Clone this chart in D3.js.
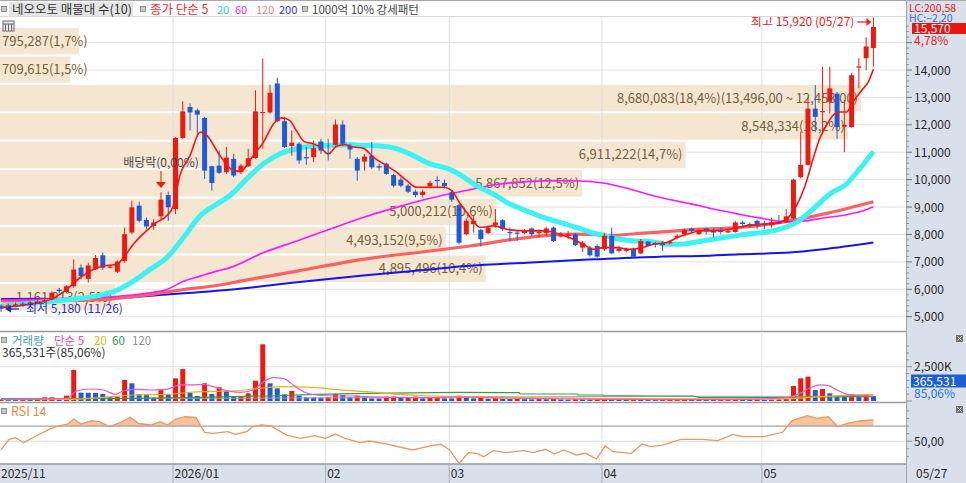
<!DOCTYPE html>
<html>
<head>
<meta charset="utf-8">
<script src="https://d3js.org/d3.v7.min.js"></script>
<style>
  body { margin: 0; background: #fff; }
  svg { display: block; font-family: "Noto Sans CJK KR", "Noto Sans", sans-serif; }
</style>
</head>
<body>
<svg id="chart" width="966" height="483"></svg>
<script>
// ---- data ----
const tradingDays = [
  ["2025-11", [26, 27, 28]],
  ["2025-12", [1, 2, 3, 4, 5, 8, 9, 10, 11, 12, 15, 16, 17, 18, 19, 22, 23, 24, 26, 29, 30]],
  ["2026-01", [2, 5, 6, 7, 8, 9, 12, 13, 14, 15, 16, 19, 20, 21, 22, 23, 26, 27, 28, 29, 30]],
  ["2026-02", [2, 3, 4, 5, 6, 9, 10, 11, 12, 13, 19, 20, 23, 24, 25, 26, 27]],
  ["2026-03", [3, 4, 5, 6, 9, 10, 11, 12, 13, 16, 17, 18, 19, 20, 23, 24, 25, 26, 27, 30, 31]],
  ["2026-04", [1, 2, 3, 6, 7, 8, 9, 10, 13, 14, 15, 16, 17, 20, 21, 22, 23, 24, 27, 28, 29, 30]],
  ["2026-05", [4, 6, 7, 8, 11, 12, 13, 14, 15, 18, 19, 20, 21, 22, 26, 27]]
];
const dates = tradingDays.flatMap(([m, ds]) => ds.map(d => m + "-" + String(d).padStart(2, "0")));

const open = [5400,5300,5380,5480,5420,5500,5540,5625,5990,5900,
  6110,6790,6380,6730,7240,6800,6640,7030,8070,9050,
  8530,8310,8660,9440,8930,11520,12650,12530,12250,10490,
  10510,10270,10760,10270,10490,10790,12440,12450,13510,12130,
  11230,11310,10820,10820,11390,10980,11270,12010,11230,10760,
  10660,10880,10490,10580,10170,10000,9780,9560,9440,9760,
  9990,9880,9540,9070,8010,8380,8170,8050,8340,8520,
  8090,8070,8050,8220,8050,8050,8250,7950,7950,8010,
  7520,7520,7580,7460,7950,7400,7400,7480,7310,7740,
  7680,7680,7680,7890,8010,8220,8010,8220,8130,8170,
  8070,8090,8440,8380,8500,8380,8340,8440,8440,8580,
  10090,10540,12590,12470,12840,13140,11930,11920,14100,14430,
  14800];
const high = [5450,5480,5520,5540,5580,5620,5700,5920,6050,6150,
  7090,6910,6970,7250,7340,6900,7050,8250,9230,9190,
  8620,8560,9540,9560,11550,12860,12780,12590,12290,10510,
  11060,11190,10940,10580,11130,13260,14420,13470,13720,12290,
  11800,11370,11190,11430,11490,11490,12190,12160,11310,10820,
  10940,11370,10580,10610,10210,10090,9840,9630,9630,9960,
  10120,10000,9600,9110,8580,8680,8190,8310,8930,8560,
  8250,8130,8190,8250,8190,8280,8280,8090,8130,8050,
  7760,7580,7640,8070,8250,7580,7520,7520,7830,7760,
  7730,7760,7800,8010,8220,8250,8220,8250,8220,8250,
  8220,8500,8500,8440,8530,8500,8620,8710,8930,10030,
  11750,13020,13450,14120,14120,13200,12900,13880,14430,15190,
  15920];
const low = [5180,5250,5340,5360,5390,5460,5500,5600,5870,5860,
  6050,6360,6240,6700,6700,6760,6600,6970,8010,8440,
  8190,8170,8560,8500,8740,11490,11800,11560,10030,9600,
  10210,10210,10090,10210,10460,10760,11130,12410,12100,11150,
  10880,10580,10540,10640,10940,10700,11250,11220,10760,9960,
  10330,10390,10330,10170,9720,9720,9510,9350,9350,9680,
  9720,9680,9190,7640,7970,8070,7560,8010,8250,8130,
  7760,7760,8010,7950,7890,7950,7730,7890,7830,7580,
  7360,7190,7150,7400,7280,7340,7340,7150,7280,7560,
  7520,7400,7640,7830,7970,8050,7990,8010,7890,8010,
  8050,8070,8250,8250,8190,8190,8250,8380,8410,8530,
  10050,10510,11740,11740,12410,11490,11000,11900,13330,14000,
  14120];
const close = [5300,5420,5450,5400,5520,5560,5600,5875,5930,6110,
  6720,6480,6870,7140,6790,6830,7010,8010,8990,8500,
  8290,8440,9270,8990,11520,12490,12450,12370,10330,9880,
  10250,10800,10150,10510,10780,12490,12470,13170,12130,11190,
  11350,10700,10790,11150,11060,10940,12010,11310,11100,10330,
  10840,10450,10440,10210,9780,9780,9560,9440,9560,9880,
  9950,9760,9270,7700,8500,8500,7830,8250,8440,8190,
  8070,8050,8130,8010,8090,8220,7760,7970,8010,7610,
  7700,7240,7190,7950,7310,7480,7460,7190,7760,7580,
  7640,7620,7730,7950,8170,8130,8130,8130,8070,8090,
  8130,8440,8380,8310,8310,8340,8440,8410,8660,10000,
  10540,12590,12290,12500,13330,11920,12000,13810,14130,14860,
  15570];
const volume = [120000,100000,90000,110000,95000,130000,267000,270000,146000,389000,
  2260000,608000,600000,590000,510000,316000,330000,1530000,1290000,486000,
  480000,243000,875000,486000,1650000,2330000,583000,365000,1290000,510000,
  1000000,730000,316000,365000,560000,1480000,4130000,1290000,923000,486000,
  730000,389000,267000,260000,250000,270000,510000,437000,267000,389000,
  267000,194000,190000,316000,320000,243000,267000,316000,194000,267000,
  270000,194000,190000,389000,280000,190000,220000,170000,200000,160000,
  140000,150000,130000,120000,140000,130000,150000,110000,100000,120000,
  110000,100000,105000,170000,140000,90000,80000,95000,85000,80000,
  70000,75000,90000,100000,110000,95000,90000,85000,80000,90000,
  95000,120000,100000,95000,110000,90000,100000,115000,170000,1094000,
  1650000,1774000,800000,875000,560000,389000,316000,486000,365000,429730,
  365531];

// moving averages: [day index, value]
const ma5 = [[0,5330],[3,5420],[5,5500],[7,5650],[9,5990],[10.9,6430],[12.7,6725],[14.1,6850],[15.9,6910],
  [17,7213],[18.2,7642],[20,8130],[21.4,8438],[22.8,8680],[23.7,9047],[24.6,10147],[26,10880],[27.4,11738],
  [28.3,11613],[30.1,10880],[32,10330],[32.9,10300],[34.7,10880],[36.1,11371],[37.5,12042],[38.6,12252],
  [39.7,12164],[40.6,11797],[41.8,11371],[42.9,11309],[43.9,11188],[45,10942],[46.2,11225],[47.3,11272],
  [48.5,11188],[49.8,11151],[51.2,10821],[53,10513],[54.4,10271],[55.8,9963],[57.2,9721],[58.6,9721],
  [60.9,9721],[62,9597],[63.1,9150],[64.5,8650],[65.9,8254],[67.7,8313],[70,8166],[72.3,8130],[74.6,8130],
  [76.9,8009],[78.7,7825],[80.1,7642],[81.5,7459],[82.8,7521],[84.7,7521],[86.5,7459],[87.9,7500],
  [89.7,7642],[91.6,7704],[93,7888],[94.8,8046],[96.1,8130],[98,8130],[100.3,8192],[102.5,8313],
  [104.8,8376],[107.1,8438],[108.5,8680],[109.4,9047],[110.6,9780],[111.7,10759],[112.6,11492],
  [113.8,12105],[114.7,12409],[115.4,12470],[116.3,12470],[117.2,12838],[118.4,13264],[119.3,13570],[120,14030]];
const ma20 = [[0,5380],[6,5540],[11.3,5680],[13.6,5780],[15.9,5960],[18.2,6296],[20.5,6725],[22.8,7154],
  [25.1,7888],[27.4,8680],[29.7,9109],[31.5,9420],[33.8,10026],[36.1,10576],[38.4,10942],[40.7,11126],
  [42.9,11225],[45.2,11240],[47.5,11272],[49.8,11250],[52.1,11225],[54.4,11126],[56.7,10880],[59,10576],
  [61.3,10418],[63.3,10150],[65.4,9780],[67.7,9476],[70,9109],[72.3,8863],[74.6,8621],[76.9,8438],
  [79.2,8254],[81.5,8046],[82.8,7972],[85.1,7825],[87.4,7763],[89.7,7727],[91.6,7642],[93.4,7642],
  [95.2,7704],[98,7825],[102.5,8009],[104.8,8071],[107.1,8192],[109.4,8438],[111.7,8926],[114,9476],
  [116.3,9842],[118.1,10392],[120,11027]];
const ma60 = [[0,5610],[10,5660],[15,5720],[20.5,5871],[22.8,5992],[25.1,6296],[27.4,6480],[29.7,6663],
  [31.5,6790],[36.1,7338],[40.7,7763],[45.2,8192],[49.8,8621],[54.4,8988],[59,9318],[64.5,9633],
  [67.7,9806],[72.3,9927],[76.9,9963],[79.7,9950],[82.8,9879],[86.1,9685],[88.8,9476],[91.6,9292],
  [94.3,9146],[96.1,9047],[98,8926],[101.5,8740],[104.8,8584],[107.1,8480],[108.5,8470],[110.7,8497],
  [113.1,8600],[116.3,8720],[118.6,8863],[120,9010]];
const ma120 = [[0,5580],[13.6,5625],[20.5,5808],[25.1,5992],[29.7,6139],[32.9,6296],[40.7,6663],
  [49.8,7092],[59,7396],[64.5,7580],[72.3,7888],[79.2,8009],[83.8,7972],[88.4,8046],[93,8130],
  [96.1,8192],[101.6,8254],[108.5,8497],[113.1,8742],[120,9193]];
const ma200 = [[0,5650],[13.6,5660],[22.8,5808],[32.2,6000],[40.7,6260],[49.8,6505],[59,6725],
  [64,6846],[72.3,6971],[81.5,7092],[90.6,7191],[96.1,7213],[101.6,7276],[108.5,7338],[113.1,7459],[120,7704]];

const volMa5 = [[0,110000],[9,195000],[10.4,730000],[12.2,875000],[14.1,800000],[15.7,486000],[16.8,730000],
  [18.2,850000],[20.5,800000],[22.8,850000],[24.6,1170000],[26.4,1170000],[27.8,1215000],[29.2,1045000],
  [31,753000],[32.9,632000],[34.7,800000],[36.1,1410000],[37.5,1700000],[38.8,1650000],[40.2,1170000],
  [41.6,680000],[43.4,437000],[45.7,365000],[48.5,365000],[50.3,316000],[54.9,267000],[59.5,243000],
  [63.1,290000],[70,200000],[80,140000],[90,100000],[100,100000],[108.1,240000],[109.9,560000],
  [111.3,970000],[112.7,1170000],[113.8,1120000],[115,800000],[116.4,486000],[118.2,389000],[120,365000]];
const volMa20 = [[0,100000],[9,120000],[13.6,245000],[18.2,437000],[22.8,486000],[27.4,680000],[31.9,730000],
  [35.6,923000],[38.8,1045000],[43.4,972000],[45.7,850000],[50.3,680000],[54.9,486000],[59.5,365000],
  [63.1,316000],[69.5,316000],[71.4,243000],[82.4,194000],[106.2,145000],[110.8,243000],[115.4,389000],[120,486000]];
const volMa60 = [[0,146000],[18.2,194000],[27.4,267000],[36.6,365000],[43.4,486000],[50.3,560000],
  [63.1,632000],[71.3,608000],[71.4,510000],[79.3,510000],[79.4,437000],[82.8,437000],[82.9,400000],
  [89.2,365000],[95.2,365000],[96.1,243000],[108.1,243000],[112,300000],[120,320000]];
const volMa120 = [[0,180000],[30,200000],[60,260000],[89,340000],[120,340000]];

const rsi14 = [[0,38.5],[1.1,52.5],[2,54.7],[3.1,48.1],[4.5,55.2],[6.6,65.7],[7.9,70.1],[9.2,72.7],[10,79.3],
  [11,72.7],[12.4,77.1],[13.5,76],[14.9,69.2],[16.4,74.5],[17.8,81.5],[18.9,73.6],[20.6,71.4],[21.9,75.8],
  [22.9,71.4],[24,78.9],[25.3,82.3],[26.8,81.5],[28,61.8],[29.1,60.4],[31.2,62.6],[32.2,59.1],[33.8,62.6],
  [34.6,69.2],[35.9,71.4],[37.1,70.1],[39.3,58.2],[41.2,53.8],[43.1,57.3],[44.6,53.8],[46,59.5],[47.3,53.8],
  [49.4,48.1],[50.7,50.3],[53.3,46],[56.6,38.5],[59.2,44.1],[60.5,46],[61.7,38.5],[63,20.9],[64.3,34.9],
  [65.5,34.1],[66.4,29.6],[67.7,37.5],[69.4,34.9],[71.9,37.5],[73.2,34.9],[74.9,39.4],[76.1,33.2],[77.4,38.5],
  [79.1,31.9],[80.4,34.1],[81.9,26.6],[83.1,43.7],[84.2,36.2],[86.7,34.1],[88.2,46.4],[89.3,42.8],[91,45],
  [93.5,52.5],[96.5,52.5],[98.6,50.7],[100.7,59.1],[102,56],[104.9,56],[107.5,61.8],[108.8,77.1],[110.9,83.7],
  [112.2,80.2],[113.8,82.3],[115.1,69.2],[116.4,73.6],[118.1,76.7],[120,78]];

// price-volume profile (매물대), bottom band first
const profileEdges = [5192, 6230, 7268, 8306, 9344, 10382, 11420, 12458, 13496, 14534, 15572];
const profileVolume = [1161213, 4895496, 4493152, 5000212, 5867852, 6911222, 8548334, 8680083, 709615, 795287];

const priceTicks = [5000, 6000, 7000, 8000, 9000, 10000, 11000, 12000, 13000, 14000, 15000];
const exDivIndex = 22;

// ---- layout ----
const plotR = 906;
const mainP = {top: 17, bottom: 331};
const volP = {top: 333, bottom: 402};
const rsiP = {top: 404, bottom: 464};
const RED = "#ee1a10", BLUE = "#1f5bd6", AXISBG = "#d7e0eb";

const svg = d3.select("#chart");
const x = d3.scaleLinear().domain([0, dates.length - 1]).range([1.03, 873.43]);
const y = d3.scaleLinear().domain([5000, 14000]).range([316.7, 70]);
const yVol = d3.scaleLinear().domain([0, 2500000]).range([401, 366.7]);
const yRsi = d3.scaleLinear().domain([20, 100]).range([rsiP.bottom, 403.3]);

const comma = d3.format(",");
const dec = (f, v) => d3.format(f)(v).replace(/\./g, "#").replace(/#/g, ",");
const n = dates.length - 1;

function clip(id, top, bottom) {
  svg.append("clipPath").attr("id", id)
    .append("rect").attr("x", 0).attr("y", top).attr("width", plotR).attr("height", bottom - top);
  return svg.append("g").attr("clip-path", `url(#${id})`);
}

// backgrounds
svg.append("rect").attr("width", 966).attr("height", 483).attr("fill", "#fff");
svg.append("rect").attr("x", plotR + 1).attr("y", 0).attr("width", 966 - plotR).attr("height", rsiP.bottom).attr("fill", AXISBG);
svg.append("rect").attr("x", 0).attr("y", rsiP.bottom).attr("width", 966).attr("height", 483 - rsiP.bottom).attr("fill", AXISBG);

// month starts (the one squeezed against the left edge is not marked)
const monthStarts = dates.map((d, i) => i)
  .filter(i => i > 0 && dates[i].slice(0, 7) !== dates[i - 1].slice(0, 7) && x(i) > 60);

// ---- main panel ----
const gMain = clip("clipMain", mainP.top, mainP.bottom);

gMain.selectAll("line.hgrid").data(priceTicks).join("line")
  .attr("x1", 0).attr("x2", plotR).attr("y1", d => y(d)).attr("y2", d => y(d))
  .attr("stroke", "#e2e2e2");

// volume profile bands
const total = d3.sum(profileVolume);
const imax = d3.maxIndex(profileVolume);
const bandW = d3.scaleLinear().domain([0, profileVolume[imax]]).range([0, 861]);
const bands = profileVolume.map((v, i) => ({v, i, lo: profileEdges[i], hi: profileEdges[i + 1]}));
gMain.selectAll("rect.band").data(bands).join("rect")
  .attr("x", 0).attr("y", d => y(d.hi) + 1)
  .attr("width", d => bandW(d.v)).attr("height", d => y(d.lo) - y(d.hi) - 2)
  .attr("fill", "#f5e6d2");

gMain.selectAll("line.vgrid").data(monthStarts).join("line")
  .attr("x1", d => x(d) - 2.5).attr("x2", d => x(d) - 2.5)
  .attr("y1", mainP.top).attr("y2", mainP.bottom).attr("stroke", "#dedede");

const bandText = gMain.selectAll("text.band").data(bands).join("text")
  .attr("y", d => (y(d.lo) + y(d.hi)) / 2 + 4.5)
  .attr("font-size", 13).attr("fill", "#76603a")
  .text(d => {
    let t = `${comma(d.v)}(${dec(".1f", d.v / total * 100)}%)`;
    if (d.i === imax) t += `(${dec(",.2f", d.hi)} ~ ${dec(",.2f", d.lo)})`;
    return t;
  });
bandText.each(function(d) {
  const w = this.getComputedTextLength();
  const right = bandW(d.v) - 3;
  if (right - w < 2) d3.select(this).attr("x", 2).attr("text-anchor", "start");
  else d3.select(this).attr("x", right).attr("text-anchor", "end");
});

const maLine = d3.line().x(d => x(d[0])).y(d => y(d[1])).curve(d3.curveMonotoneX);
gMain.append("path").datum(ma200).attr("d", maLine).attr("fill", "none").attr("stroke", "#1414f0").attr("stroke-width", 2);
gMain.append("path").datum(ma120).attr("d", maLine).attr("fill", "none").attr("stroke", "#fa6262").attr("stroke-width", 3.2);
gMain.append("path").datum(ma60).attr("d", maLine).attr("fill", "none").attr("stroke", "#ff14ff").attr("stroke-width", 1.6);
gMain.append("path").datum(ma20).attr("d", maLine).attr("fill", "none").attr("stroke", "#3cf2f2").attr("stroke-width", 5);

// candles
const candles = dates.map((d, i) => ({i, o: open[i], h: high[i], l: low[i], c: close[i]}));
const cg = gMain.selectAll("g.candle").data(candles).join("g");
cg.append("line")
  .attr("x1", d => x(d.i)).attr("x2", d => x(d.i))
  .attr("y1", d => y(d.h)).attr("y2", d => y(d.l))
  .attr("stroke", d => d.c >= d.o ? RED : BLUE);
cg.append("rect")
  .attr("x", d => x(d.i) - 2.5).attr("width", 5)
  .attr("y", d => y(Math.max(d.o, d.c)))
  .attr("height", d => Math.max(1.2, Math.abs(y(d.o) - y(d.c))))
  .attr("fill", d => d.c >= d.o ? RED : BLUE);

gMain.append("path").datum(ma5).attr("d", maLine).attr("fill", "none").attr("stroke", "#ff1010").attr("stroke-width", 1.6);

// annotations
const hiIdx = d3.maxIndex(high), loIdx = d3.minIndex(low);
const md = s => s.slice(5).replace("-", "/");
gMain.append("text").attr("x", x(hiIdx) - 19).attr("y", 26).attr("text-anchor", "end")
  .attr("font-size", 12).attr("fill", "#f02020")
  .text(`최고 ${comma(high[hiIdx])} (${md(dates[hiIdx])})`);
gMain.append("line").attr("x1", x(hiIdx) - 16).attr("x2", x(hiIdx) - 6).attr("y1", 22).attr("y2", 22).attr("stroke", "#f02020").attr("stroke-width", 1.3);
gMain.append("path").attr("d", `M${x(hiIdx) - 7},18L${x(hiIdx) - 2},22L${x(hiIdx) - 7},26Z`).attr("fill", "#f02020");

gMain.append("path").attr("d", `M${x(loIdx) + 4},309L${x(loIdx) + 10},305.5L${x(loIdx) + 10},312.5Z`).attr("fill", "#1a2ad0");
gMain.append("line").attr("x1", x(loIdx) + 10).attr("x2", x(loIdx) + 18).attr("y1", 309).attr("y2", 309).attr("stroke", "#1a2ad0").attr("stroke-width", 1.3);
gMain.append("text").attr("x", x(loIdx) + 25).attr("y", 313).attr("font-size", 12).attr("fill", "#2434c8")
  .text(`최저 ${comma(low[loIdx])} (${md(dates[loIdx])})`);

gMain.append("text").attr("x", x(exDivIndex)).attr("y", 167).attr("text-anchor", "middle")
  .attr("font-size", 12).attr("fill", "#4a4a4a").text("배당락(0,00%)");
gMain.append("line").attr("x1", x(exDivIndex)).attr("x2", x(exDivIndex)).attr("y1", 171).attr("y2", 183).attr("stroke", RED);
gMain.append("path").attr("d", `M${x(exDivIndex) - 5},182L${x(exDivIndex) + 5},182L${x(exDivIndex)},188Z`).attr("fill", RED);

// grid icon
const icon = svg.append("g").attr("transform", "translate(3,21)");
icon.append("rect").attr("width", 11).attr("height", 10).attr("fill", "#e8e8e8").attr("stroke", "#6a6a6a");
[3, 6, 9].forEach(v => icon.append("line").attr("x1", v - 0.5).attr("x2", v - 0.5).attr("y1", 3).attr("y2", 10).attr("stroke", "#6a6a6a"));
icon.append("line").attr("x1", 0).attr("x2", 11).attr("y1", 3).attr("y2", 3).attr("stroke", "#6a6a6a");

// ---- volume panel ----
const gVol = clip("clipVol", volP.top, volP.bottom);
gVol.append("line").attr("x1", 0).attr("x2", plotR).attr("y1", yVol(2500000)).attr("y2", yVol(2500000)).attr("stroke", "#e2e2e2");
gVol.selectAll("line.vgrid").data(monthStarts).join("line")
  .attr("x1", d => x(d) - 2.5).attr("x2", d => x(d) - 2.5)
  .attr("y1", volP.top).attr("y2", volP.bottom).attr("stroke", "#dedede");
gVol.selectAll("rect.vol").data(volume).join("rect")
  .attr("x", (d, i) => x(i) - 2.5).attr("width", 5)
  .attr("y", d => yVol(d)).attr("height", d => yVol(0) - yVol(d))
  .attr("fill", (d, i) => i === 0 || d >= volume[i - 1] ? RED : BLUE);
const vLine = d3.line().x(d => x(d[0])).y(d => yVol(d[1])).curve(d3.curveMonotoneX);
gVol.append("path").datum(volMa120).attr("d", vLine).attr("fill", "none").attr("stroke", "#a0a0a0");
gVol.append("path").datum(volMa60).attr("d", d3.line().x(d => x(d[0])).y(d => yVol(d[1]))).attr("fill", "none").attr("stroke", "#2f9e4f").attr("stroke-width", 1.2);
gVol.append("path").datum(volMa20).attr("d", vLine).attr("fill", "none").attr("stroke", "#f2b10a").attr("stroke-width", 1.2);
gVol.append("path").datum(volMa5).attr("d", vLine).attr("fill", "none").attr("stroke", "#ee55d2").attr("stroke-width", 1.2);

// ---- RSI panel ----
const gRsi = clip("clipRsi", rsiP.top, rsiP.bottom);
gRsi.selectAll("line.vgrid").data(monthStarts).join("line")
  .attr("x1", d => x(d) - 2.5).attr("x2", d => x(d) - 2.5)
  .attr("y1", rsiP.top).attr("y2", rsiP.bottom).attr("stroke", "#dedede");
gRsi.append("line").attr("x1", 0).attr("x2", plotR).attr("y1", yRsi(50)).attr("y2", yRsi(50)).attr("stroke", "#dcdcdc");
svg.append("clipPath").attr("id", "clipOver")
  .append("rect").attr("x", 0).attr("y", rsiP.top).attr("width", plotR).attr("height", yRsi(70) - rsiP.top);
gRsi.append("path").datum(rsi14)
  .attr("d", d3.area().x(d => x(d[0])).y0(yRsi(70)).y1(d => yRsi(d[1])))
  .attr("clip-path", "url(#clipOver)").attr("fill", "#f7b990").attr("opacity", 0.85);
gRsi.append("line").attr("x1", 0).attr("x2", plotR).attr("y1", yRsi(70)).attr("y2", yRsi(70)).attr("stroke", "#8c8c8c");
gRsi.append("path").datum(rsi14).attr("d", d3.line().x(d => x(d[0])).y(d => yRsi(d[1])))
  .attr("fill", "none").attr("stroke", "#f4955a").attr("stroke-width", 1.3);

// ---- separators ----
[mainP.bottom + 0.5, volP.bottom + 0.5, rsiP.bottom].forEach(v =>
  svg.append("line").attr("x1", 0).attr("x2", plotR).attr("y1", v).attr("y2", v).attr("stroke", "#9a9a9a").attr("stroke-width", 1.6));
svg.append("line").attr("x1", 0).attr("x2", 966).attr("y1", 0.5).attr("y2", 0.5).attr("stroke", "#a8a8a8");
svg.append("line").attr("x1", 0).attr("x2", plotR).attr("y1", mainP.top - 0.5).attr("y2", mainP.top - 0.5).attr("stroke", "#d8d8d8");
svg.append("line").attr("x1", plotR + 0.5).attr("x2", plotR + 0.5).attr("y1", 0).attr("y2", 483).attr("stroke", "#9aa4b2");

// ---- right axis ----
const ax = svg.append("g").attr("font-size", 12).attr("fill", "#2a2a2a");
priceTicks.forEach(v => {
  ax.append("line").attr("x1", plotR).attr("x2", plotR + 6).attr("y1", y(v)).attr("y2", y(v)).attr("stroke", "#6a7280");
  // 15,000 sits under the change-rate readout, as on the source chart
  if (v < 15000) ax.append("text").attr("x", plotR + 8).attr("y", y(v) + 4.5).text(comma(v));
});
d3.range(5000, 15800, 200).filter(v => v % 1000).forEach(v =>
  ax.append("line").attr("x1", plotR).attr("x2", plotR + 3).attr("y1", y(v)).attr("y2", y(v)).attr("stroke", "#8a94a2"));

const last = close[n], prev = close[n - 1];
const lc = (last / low[loIdx] - 1) * 100, hc = (last / high[hiIdx] - 1) * 100;
const rd = ax.append("g").attr("font-size", 10.5);
rd.append("text").attr("x", 909).attr("y", 11.5).attr("fill", "#e82020").text(`LC:${dec(".2f", lc)}`);
rd.append("text").attr("x", 909).attr("y", 22).attr("fill", "#3a6ed8").text(`HC:${dec(".2f", hc)}`);
rd.append("rect").attr("x", 912).attr("y", 23).attr("width", 54).attr("height", 11).attr("fill", "#e8170e");
rd.append("text").attr("x", 914).attr("y", 32.5).attr("font-size", 12).attr("fill", "#fff").text(comma(last));
rd.append("text").attr("x", 914).attr("y", 44.5).attr("font-size", 12).attr("fill", "#e82020").text(`${dec(".2f", (last / prev - 1) * 100)}%`);

// volume axis
d3.range(0, 4000001, 500000).forEach(v => {
  if (yVol(v) < volP.top + 2) return;
  ax.append("line").attr("x1", plotR).attr("x2", plotR + (v % 2500000 ? 3 : 6)).attr("y1", yVol(v)).attr("y2", yVol(v)).attr("stroke", "#8a94a2");
});
ax.append("text").attr("x", plotR + 8).attr("y", yVol(2500000) + 4.5).text("2,500K");
ax.append("rect").attr("x", 911).attr("y", 374.5).attr("width", 55).attr("height", 13).attr("fill", "#1d5fd1");
ax.append("text").attr("x", 913).attr("y", 385.5).attr("fill", "#fff").text(comma(volume[n]));
ax.append("text").attr("x", 914).attr("y", 398).attr("fill", "#3070e0").text(`${dec(".2f", volume[n] / volume[n - 1] * 100)}%`);

// rsi axis
[30, 40, 50, 60, 70, 80, 90].forEach(v =>
  ax.append("line").attr("x1", plotR).attr("x2", plotR + (v === 50 ? 6 : 3)).attr("y1", yRsi(v)).attr("y2", yRsi(v)).attr("stroke", "#8a94a2"));
ax.append("text").attr("x", plotR + 8).attr("y", yRsi(50) + 4.5).text("50,00");

// close buttons
[volP.top + 2, rsiP.top + 2].forEach(t => {
  svg.append("rect").attr("x", 956).attr("y", t).attr("width", 7).attr("height", 7).attr("fill", "#6e6e6e");
  svg.append("path").attr("d", `M${957.5},${t + 1.5}L${961.5},${t + 5.5}M${961.5},${t + 1.5}L${957.5},${t + 5.5}`).attr("stroke", "#fff");
});

// ---- bottom axis ----
const bx = svg.append("g").attr("font-size", 12).attr("fill", "#2a2a2a");
bx.append("text").attr("x", 1).attr("y", 478).text(dates[0].slice(0, 7).replace("-", "/"));
monthStarts.forEach(i => {
  const xv = x(i) - 2.5;
  bx.append("line").attr("x1", xv).attr("x2", xv).attr("y1", rsiP.bottom).attr("y2", 483).attr("stroke", "#a6b0bf");
  const yearChange = dates[i].slice(0, 4) !== dates[i - 1].slice(0, 4);
  bx.append("text").attr("x", xv + 1.5).attr("y", 478)
    .text(yearChange ? dates[i].slice(0, 7).replace("-", "/") : dates[i].slice(5, 7));
});
bx.append("text").attr("x", plotR + 10).attr("y", 478).text(md(dates[n]));

// ---- legends ----
function square(g, x0, y0) {
  g.append("rect").attr("x", x0).attr("y", y0).attr("width", 5).attr("height", 5).attr("fill", "#c8c8c8").attr("stroke", "#7a7a7a").attr("stroke-width", 0.8);
}
const lg = svg.append("g").attr("font-size", 12.5);
square(lg, 1.5, 6.5);
lg.append("rect").attr("x", 9).attr("y", 2).attr("width", 124).attr("height", 14).attr("fill", "#e4e4e4");
lg.append("text").attr("x", 12).attr("y", 13.5).attr("fill", "#333").text("네오오토 매물대 수(10)");
square(lg, 140.5, 6.5);
lg.append("text").attr("x", 150).attr("y", 13.5).attr("fill", "#ff2a2a").text("종가 단순 5");
[["20", 217, "#22d6d6"], ["60", 235, "#ff22ff"], ["120", 256, "#ff7a7a"], ["200", 279, "#2a2aff"]]
  .forEach(([t, xv, c]) => lg.append("text").attr("x", xv).attr("y", 13.5).attr("font-size", 11).attr("fill", c).text(t));
square(lg, 302.5, 6.5);
lg.append("text").attr("x", 312).attr("y", 13.5).attr("font-size", 11.5).attr("fill", "#444").text("1000억 10% 강세패턴");

square(lg, 1.5, 337.5);
[["거래량", 12, "#39a4a6"], ["단순 5", 54, "#e445cf"], ["20", 94, "#f2b10a"], ["60", 112, "#2f9e4f"], ["120", 132, "#8c8c8c"]]
  .forEach(([t, xv, c]) => lg.append("text").attr("x", xv).attr("y", 344.5).attr("font-size", 11.5).attr("fill", c).text(t));
lg.append("text").attr("x", 2).attr("y", 356.5).attr("font-size", 12).attr("fill", "#333")
  .text(`${comma(volume[n])}주(${dec(".2f", volume[n] / volume[n - 1] * 100)}%)`);

square(lg, 1.5, 408.5);
lg.append("text").attr("x", 11).attr("y", 415.5).attr("fill", "#f08a3c").text("RSI 14");
</script>
</body>
</html>
